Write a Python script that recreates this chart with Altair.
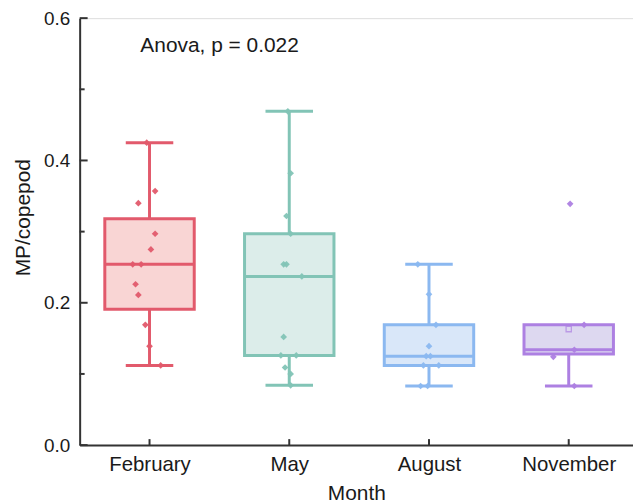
import altair as alt
import pandas as pd

months = ["February", "May", "August", "November"]
stroke_colors = ["#E25A6C", "#82C4B6", "#8BB8F0", "#AD80E2"]
fill_colors = ["#F9D5D4", "#DCEDEA", "#D9E7F9", "#DDD8F0"]

# box statistics
whisker_low = [0.112, 0.084, 0.083, 0.083]
q1 = [0.191, 0.126, 0.112, 0.128]
median = [0.254, 0.237, 0.125, 0.134]
q3 = [0.318, 0.297, 0.169, 0.169]
whisker_high = [0.425, 0.469, 0.254, 0.169]
mean_marker_month = ["November"]
mean_marker_value = [0.163]

# individual samples
feb_values = [0.425, 0.357, 0.340, 0.297, 0.275, 0.254, 0.254, 0.226, 0.211, 0.169, 0.139, 0.112]
may_values = [0.469, 0.382, 0.322, 0.297, 0.254, 0.254, 0.237, 0.152, 0.126, 0.126, 0.109, 0.100, 0.084]
aug_values = [0.254, 0.212, 0.169, 0.139, 0.125, 0.125, 0.112, 0.112, 0.083, 0.083]
nov_values = [0.339, 0.169, 0.134, 0.124, 0.083]
# horizontal jitter of the samples, as a fraction of the category step
feb_jitter = [-0.02, 0.04, -0.08, 0.04, 0.01, -0.12, -0.06, -0.10, -0.08, -0.03, 0.0, 0.08]
may_jitter = [-0.01, 0.01, -0.02, 0.01, -0.04, -0.02, 0.09, -0.04, -0.06, 0.05, -0.03, 0.01, 0.01]
aug_jitter = [-0.08, 0.0, 0.05, 0.0, -0.02, 0.01, -0.04, 0.07, -0.06, -0.01]
nov_jitter = [0.01, 0.11, 0.04, -0.11, 0.04]

anova_label = "Anova, p = 0.022"
y_major = [0.0, 0.2, 0.4, 0.6]
y_minor = [0.1, 0.3, 0.5]

FONT = "Liberation Sans"
AXIS_COLOR = "#333333"
TEXT_COLOR = "#1a1a1a"
W, H = 556, 429
HALF_BOX = 0.32
HALF_CAP = 0.17

box_df = pd.DataFrame({
    "month": months, "idx": list(range(len(months))),
    "stroke": stroke_colors, "fill": fill_colors,
    "lo": whisker_low, "q1": q1, "median": median, "q3": q3, "hi": whisker_high,
})

rows = []
for m, vals, jit in zip(months, [feb_values, may_values, aug_values, nov_values],
                        [feb_jitter, may_jitter, aug_jitter, nov_jitter]):
    i = months.index(m)
    for v, j in zip(vals, jit):
        rows.append({"month": m, "idx": i, "value": v, "jitter": j, "stroke": stroke_colors[i]})
pts_df = pd.DataFrame(rows)

mean_df = pd.DataFrame({
    "month": mean_marker_month,
    "idx": [months.index(m) for m in mean_marker_month],
    "value": mean_marker_value,
    "stroke": [stroke_colors[months.index(m)] for m in mean_marker_month],
})

label_expr = "[" + ",".join("'%s'" % m for m in months) + "][datum.value]"

x_scale = alt.Scale(domain=[-0.5, 3.46], nice=False, zero=False)
y_scale = alt.Scale(domain=[0, 0.6], nice=False, zero=True)

x_axis = alt.Axis(values=[0, 1, 2, 3], labelExpr=label_expr, ticks=False, grid=False,
                  title="Month", labelFontSize=20.5, titleFontSize=21, labelPadding=10,
                  titlePadding=7, labelFont=FONT, titleFont=FONT, labelColor=TEXT_COLOR,
                  titleColor=TEXT_COLOR, titleFontWeight="normal", domainColor=AXIS_COLOR,
                  domainWidth=2)
y_axis = alt.Axis(values=y_major, format=".1f", ticks=False, grid=False,
                  title="MP/copepod", labelFontSize=19, titleFontSize=21, labelPadding=10,
                  titlePadding=10, labelFont=FONT, titleFont=FONT, labelColor=TEXT_COLOR,
                  titleColor=TEXT_COLOR, titleFontWeight="normal", domainColor=AXIS_COLOR,
                  domainWidth=2, titleY=200)

base = alt.Chart(box_df)

boxes = base.transform_calculate(
    xl=f"datum.idx - {HALF_BOX}", xr=f"datum.idx + {HALF_BOX}"
).mark_rect(strokeWidth=3).encode(
    x=alt.X("xl:Q", scale=x_scale, axis=x_axis),
    x2="xr:Q",
    y=alt.Y("q1:Q", scale=y_scale, axis=y_axis),
    y2="q3:Q",
    fill=alt.Fill("fill:N", scale=None),
    stroke=alt.Stroke("stroke:N", scale=None),
)

medians = base.transform_calculate(
    xl=f"datum.idx - {HALF_BOX}", xr=f"datum.idx + {HALF_BOX}"
).mark_rule(strokeWidth=3).encode(
    x="xl:Q", x2="xr:Q", y="median:Q",
    color=alt.Color("stroke:N", scale=None),
)

whisk_up = base.mark_rule(strokeWidth=3).encode(
    x="idx:Q", y="q3:Q", y2="hi:Q", color=alt.Color("stroke:N", scale=None))
whisk_dn = base.mark_rule(strokeWidth=3).encode(
    x="idx:Q", y="lo:Q", y2="q1:Q", color=alt.Color("stroke:N", scale=None))

cap_base = base.transform_calculate(
    xl=f"datum.idx - {HALF_CAP}", xr=f"datum.idx + {HALF_CAP}")
caps_hi = cap_base.transform_filter("datum.hi > datum.q3").mark_rule(strokeWidth=3).encode(
    x="xl:Q", x2="xr:Q", y="hi:Q", color=alt.Color("stroke:N", scale=None))
caps_lo = cap_base.mark_rule(strokeWidth=3).encode(
    x="xl:Q", x2="xr:Q", y="lo:Q", color=alt.Color("stroke:N", scale=None))

points = alt.Chart(pts_df).transform_calculate(
    xp="datum.idx + datum.jitter"
).mark_point(shape="diamond", filled=True, size=45, opacity=0.95).encode(
    x="xp:Q", y="value:Q",
    color=alt.Color("stroke:N", scale=None),
)

means = alt.Chart(mean_df).mark_point(shape="square", filled=False, size=28, strokeWidth=1.3).encode(
    x="idx:Q", y="value:Q", color=alt.Color("stroke:N", scale=None))

tick_major = alt.Chart(pd.DataFrame({"v": y_major})).mark_rule(color=AXIS_COLOR, strokeWidth=2).encode(
    y="v:Q", x=alt.value(0), x2=alt.value(8))
tick_minor = alt.Chart(pd.DataFrame({"v": y_minor})).mark_rule(color=AXIS_COLOR, strokeWidth=2).encode(
    y="v:Q", x=alt.value(0), x2=alt.value(5))
tick_x = base.mark_rule(color=AXIS_COLOR, strokeWidth=2).encode(
    x="idx:Q", y=alt.value(H), y2=alt.value(H - 6))

title = alt.Chart(pd.DataFrame({"t": [anova_label]})).mark_text(
    align="left", baseline="middle", font=FONT, fontSize=21, color=TEXT_COLOR
).encode(text="t:N", x=alt.value(61), y=alt.value(28))

chart = alt.layer(
    boxes, whisk_up, whisk_dn, caps_hi, caps_lo, medians, means, points,
    tick_major, tick_minor, tick_x, title
).properties(
    width=W, height=H,
    padding={"left": 4, "top": 0, "right": 0, "bottom": 0},
).configure_view(stroke=None).configure(background="white")

chart.save("out.html", embed_options={"renderer": "svg", "actions": False})
